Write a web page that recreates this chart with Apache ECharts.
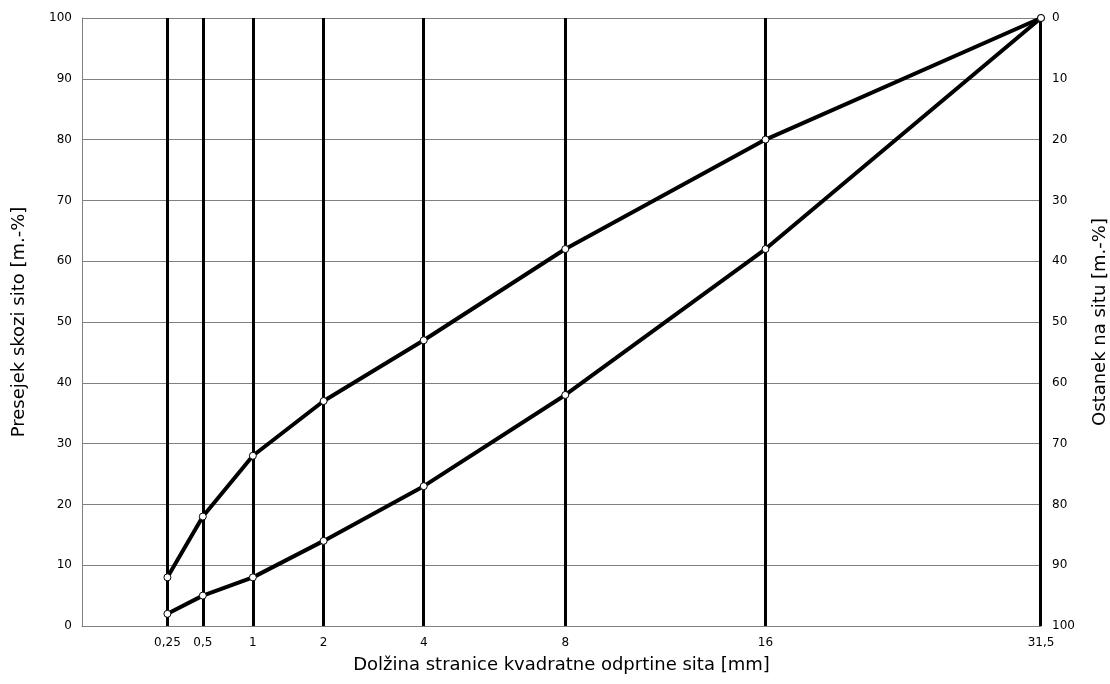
<!DOCTYPE html>
<html><head><meta charset="utf-8">
<script src="https://cdn.jsdelivr.net/npm/echarts@6/dist/echarts.min.js"></script>
<style>html,body{margin:0;padding:0;background:#fff}#c{width:1110px;height:684px}</style>
</head><body><div id="c"></div>
<script>
const sieveSizes = [0.25, 0.5, 1, 2, 4, 8, 16, 31.5];
const sieveLabels = ['0,25', '0,5', '1', '2', '4', '8', '16', '31,5'];
const upperCurve = [8, 18, 28, 37, 47, 62, 80, 100];
const lowerCurve = [2, 5, 8, 14, 23, 38, 62, 100];
const yTicks = [0, 10, 20, 30, 40, 50, 60, 70, 80, 90, 100];

const xs = sieveSizes.map(v => Math.sqrt(v));
const labelMap = {};
xs.forEach((x, i) => { labelMap[x.toFixed(6)] = sieveLabels[i]; });
const font = 'DejaVu Sans';
const lineSeries = (name, vals) => ({
  name, type: 'line', data: xs.map((x, i) => [x, vals[i]]),
  symbol: 'circle', symbolSize: 7,
  itemStyle: { color: '#fff', borderColor: '#000', borderWidth: 1 },
  lineStyle: { color: '#000', width: 4 }, z: 5, animation: false
});
const chart = echarts.init(document.getElementById('c'));
chart.setOption({
  animation: false,
  grid: { left: 82, top: 18, right: 69, bottom: 58, containLabel: false, outerBoundsMode: 'none' },
  xAxis: {
    type: 'value', min: 0, max: Math.sqrt(31.5),
    name: 'Dolžina stranice kvadratne odprtine sita [mm]', nameLocation: 'middle', nameGap: 30,
    nameTextStyle: { fontFamily: font, fontSize: 18, color: '#000' },
    axisLine: { show: true, lineStyle: { color: '#808080', width: 1 } },
    axisTick: { show: false },
    splitLine: { show: false },
    axisLabel: {
      customValues: xs, fontFamily: font, fontSize: 12, color: '#000', margin: 11,
      formatter: v => labelMap[v.toFixed(6)] || ''
    }
  },
  yAxis: [{
    type: 'value', min: 0, max: 100, interval: 10, position: 'left',
    name: 'Presejek skozi sito [m.-%]', nameLocation: 'middle', nameGap: 54, nameRotate: 90,
    nameTextStyle: { fontFamily: font, fontSize: 18, color: '#000' },
    axisLine: { show: true, lineStyle: { color: '#808080', width: 1 } },
    axisTick: { show: false },
    splitLine: { show: true, lineStyle: { color: '#808080', width: 1 } },
    axisLabel: { fontFamily: font, fontSize: 12, color: '#000', margin: 10 }
  }, {
    type: 'value', min: 0, max: 100, interval: 10, position: 'right', inverse: true,
    name: 'Ostanek na situ [m.-%]', nameLocation: 'middle', nameGap: 50, nameRotate: 90,
    nameTextStyle: { fontFamily: font, fontSize: 18, color: '#000' },
    axisLine: { show: false }, axisTick: { show: false }, splitLine: { show: false },
    axisLabel: { fontFamily: font, fontSize: 12, color: '#000', margin: 11 }
  }],
  series: [
    {
      type: 'line', data: [], silent: true,
      markLine: {
        symbol: 'none', silent: true, animation: false,
        label: { show: false },
        lineStyle: { color: '#000', width: 3, type: 'solid' },
        data: xs.map(x => ({ xAxis: x }))
      }
    },
    lineSeries('upper', upperCurve),
    lineSeries('lower', lowerCurve)
  ]
});
</script></body></html>
